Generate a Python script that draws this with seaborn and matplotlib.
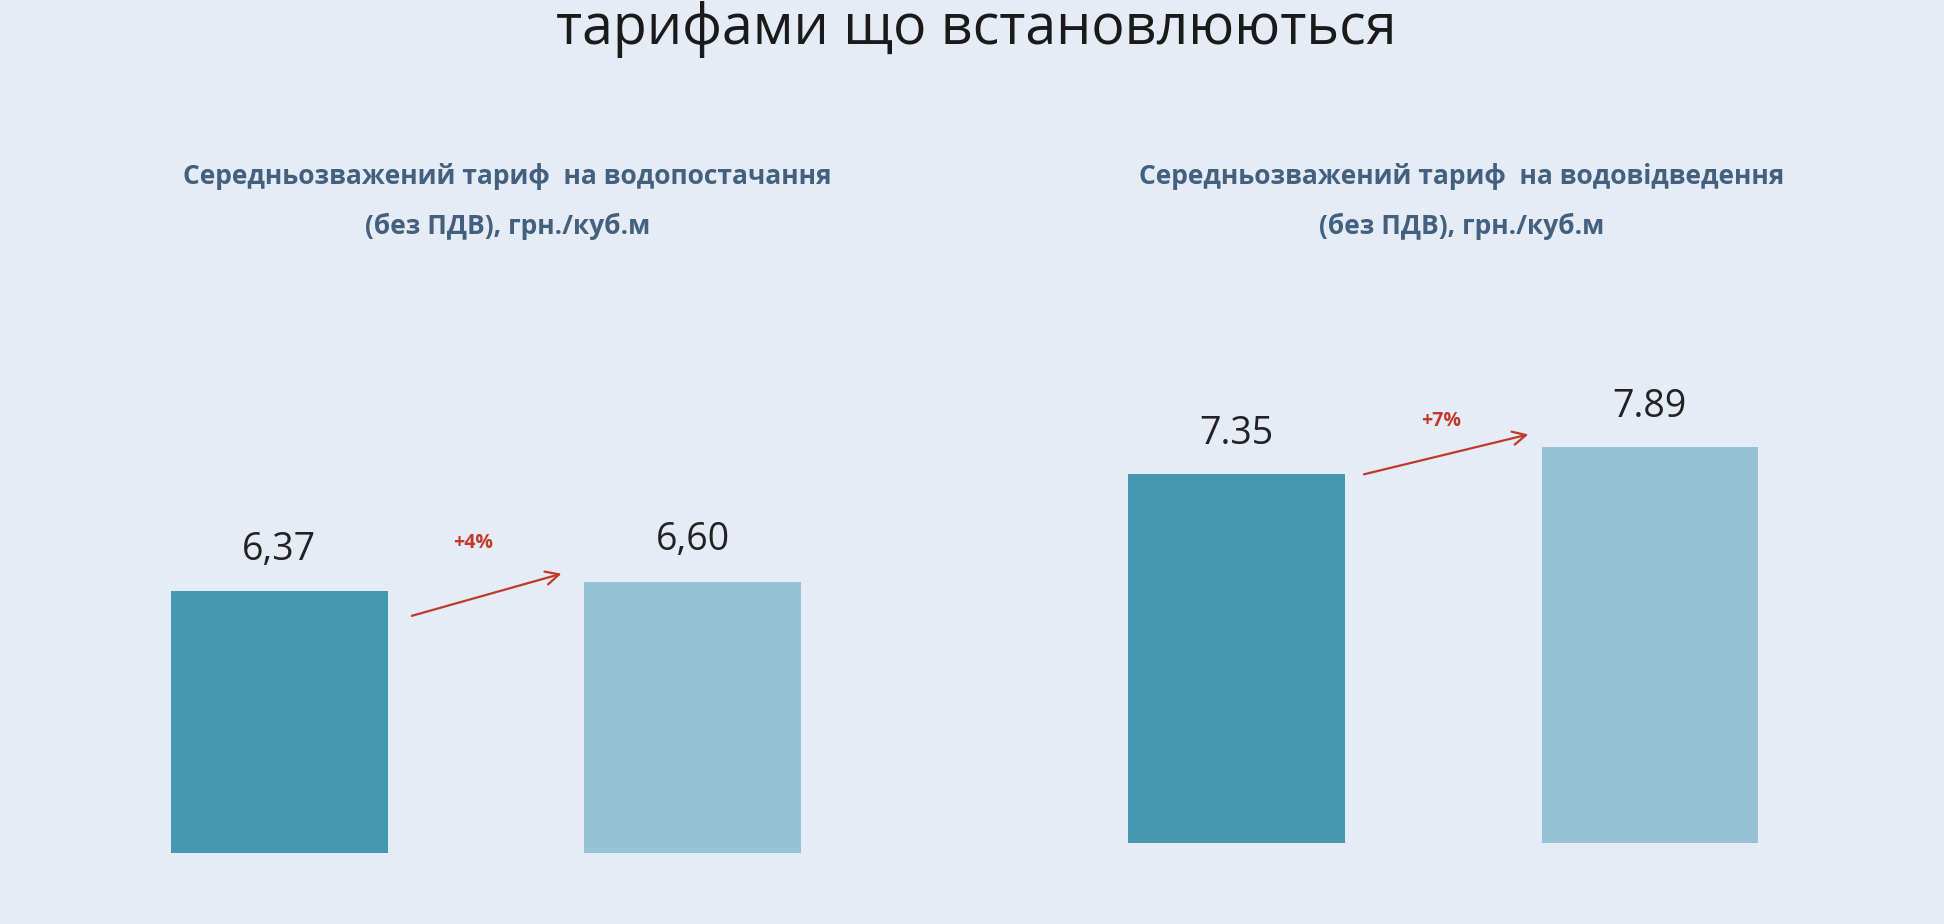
import matplotlib
matplotlib.use("Agg")
import matplotlib.pyplot as plt
import seaborn as sns
import pandas as pd

sns.set_theme(style="white")
plt.rcParams['font.family'] = ['Open Sans', 'DejaVu Sans']

periods = ["до", "після"]
supply_values = [6.37, 6.60]
supply_labels = ["6,37", "6,60"]
drain_values = [7.35, 7.89]
drain_labels = ["7.35", "7.89"]
supply_change = "+4%"
drain_change = "+7%"
title = "тарифами що встановлюються"
sub1 = "Середньозважений тариф  на водопостачання\n(без ПДВ), грн./куб.м"
sub2 = "Середньозважений тариф  на водовідведення\n(без ПДВ), грн./куб.м"

bg = "#E6ECF6"
colors = ["#4499B0", "#95C3D4"]
red = "#C0392B"

fig = plt.figure(figsize=(19.44, 9.24), dpi=100, facecolor=bg)
axL = fig.add_axes([0.0373, 0.0765, 0.4254, 0.6015])
axR = fig.add_axes([0.5297, 0.0872, 0.4253, 0.5908])

def draw(ax, vals, labels, ymax, off, change, a0, a1, tp):
    df = pd.DataFrame({"p": periods, "v": vals})
    sns.barplot(data=df, x="p", y="v", hue="p", palette=colors, ax=ax,
                width=0.524, legend=False, saturation=1, edgecolor="none", linewidth=0)
    ax.set_xlim(-0.5, 1.5)
    ax.set_ylim(0, ymax)
    ax.set_facecolor(bg)
    ax.axis("off")
    for i, (v, l) in enumerate(zip(vals, labels)):
        ax.text(i, v + off, l, ha="center", va="center", fontsize=27, color="#222222")
    ax.annotate("", xy=a1, xytext=a0,
                arrowprops=dict(arrowstyle="->", color=red, lw=1.6, mutation_scale=24))
    ax.text(tp[0], tp[1], change, ha="center", va="center", fontsize=14,
            color=red, fontweight="bold")

draw(axL, supply_values, supply_labels, 13.5, 1.0, supply_change,
     (0.314, 5.75), (0.689, 6.81), (0.47, 7.53))
draw(axR, drain_values, drain_labels, 10.86, 0.8, drain_change,
     (0.302, 7.33), (0.713, 8.15), (0.494, 8.4))

fig.text(0.502, 0.968, title, ha="center", va="center", fontsize=40, color="#1a1a1a")
fig.text(0.261, 0.782, sub1, ha="center", va="center", fontsize=19,
         fontweight="bold", color="#44607F", linespacing=2.1)
fig.text(0.752, 0.782, sub2, ha="center", va="center", fontsize=19,
         fontweight="bold", color="#44607F", linespacing=2.1)

fig.savefig("out.png", dpi=100, facecolor=bg)
